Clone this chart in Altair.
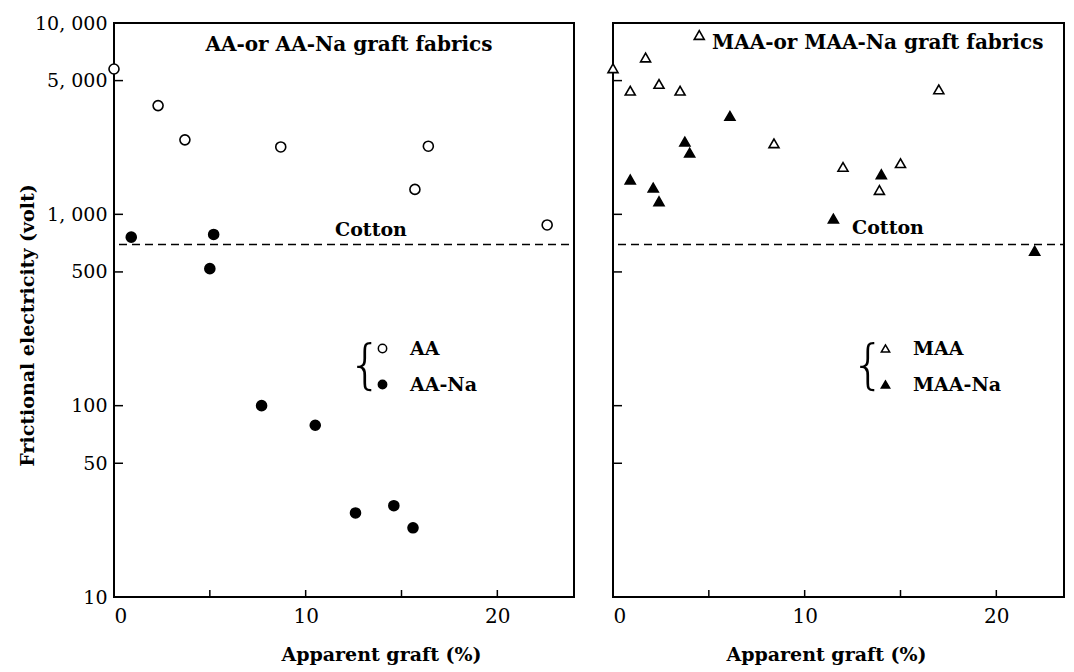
import altair as alt
import pandas as pd

# ---- data ----
# Left panel: AA (open circles) and AA-Na (filled circles)
aa_x = [0.0, 2.3, 3.7, 8.7, 15.7, 16.4, 22.6]
aa_y = [5750, 3700, 2450, 2250, 1350, 2270, 880]
aana_x = [0.9, 5.0, 5.2, 7.7, 10.5, 12.6, 14.6, 15.6]
aana_y = [760, 520, 785, 100, 79, 27.5, 30, 23]

# Right panel: MAA (open triangles) and MAA-Na (filled triangles)
maa_x = [0.0, 0.9, 1.7, 2.4, 3.5, 4.5, 8.4, 12.0, 13.9, 15.0, 17.0]
maa_y = [5800, 4430, 6600, 4800, 4430, 8650, 2350, 1770, 1340, 1850, 4500]
maana_x = [0.9, 2.1, 2.4, 3.75, 4.0, 6.1, 11.5, 14.0, 22.0]
maana_y = [1520, 1380, 1170, 2400, 2100, 3270, 950, 1620, 645]

cotton_level = [695]

y_tick_values = [10, 50, 100, 500, 1000, 5000, 10000]
x_label_values = [0, 10, 20]
x_tick_values = [5, 10, 15, 20]

left_title = "AA-or AA-Na graft fabrics"
right_title = "MAA-or MAA-Na graft fabrics"
x_title = "Apparent graft (%)"
y_title = "Frictional electricity (volt)"

SERIF = "DejaVu Serif"
H = 574
W_LEFT = 460
W_RIGHT = 451
PX_PER_UNIT = W_LEFT / 24.0


def make_df(xs, ys, name):
    return pd.DataFrame({"graft": xs, "volt": ys, "series": name})


def panel(df, width, domain, shapes, fills, title, title_x, title_align, title_y,
          xtitle_x, cotton_x, cotton_y, legend_x, legend_y, show_y):
    x_axis = alt.Axis(values=x_label_values, title=x_title, grid=False,
                      domain=False, ticks=False, labelPadding=9,
                      labelFont=SERIF, labelFontSize=20, labelColor="black",
                      titleFont=SERIF, titleFontSize=19, titleFontWeight="bold",
                      titleColor="black", titleX=xtitle_x, titleY=57,
                      titleBaseline="middle", titleAlign="center")
    if show_y:
        y_axis = alt.Axis(values=y_tick_values, title=y_title, grid=False,
                          domain=False, ticks=False, labelPadding=7,
                          labelExpr="replace(format(datum.value, ','), ',', ', ')",
                          labelFont=SERIF, labelFontSize=19, labelColor="black",
                          labelBaseline="middle",
                          titleFont=SERIF, titleFontSize=19, titleFontWeight="bold",
                          titleColor="black", titleX=-87, titleY=302,
                          titleAngle=270, titleBaseline="middle", titleAlign="center")
    else:
        y_axis = None

    x_max = width / PX_PER_UNIT
    xenc = alt.X("graft:Q", scale=alt.Scale(domain=[0, x_max], nice=False, zero=False),
                 axis=x_axis)
    yenc = alt.Y("volt:Q", scale=alt.Scale(type="log", domain=[10, 10000], nice=False),
                 axis=y_axis)

    leg = alt.Legend(orient="none", legendX=legend_x, legendY=legend_y,
                     title="{", titleOrient="left", titleFont="DejaVu Sans",
                     titleFontWeight=200, titleFontSize=54, titleColor="black",
                     titlePadding=-10, titleBaseline="middle",
                     labelFont=SERIF, labelFontSize=19, labelFontWeight="bold",
                     labelColor="black", labelOffset=18, rowPadding=16,
                     symbolSize=70, symbolStrokeWidth=1.5,
                     symbolStrokeColor="black", padding=0)

    points = alt.Chart(df).mark_point(filled=False, strokeWidth=1.6,
                                      size=100, opacity=1).encode(
        x=xenc, y=yenc,
        shape=alt.Shape("series:N", scale=alt.Scale(domain=domain, range=shapes), legend=leg),
        fill=alt.Fill("series:N", scale=alt.Scale(domain=domain, range=fills), legend=leg),
        stroke=alt.Stroke("series:N", scale=alt.Scale(domain=domain, range=["black", "black"]),
                          legend=leg),
    )

    cotton = alt.Chart(pd.DataFrame({"volt": cotton_level})).mark_rule(
        strokeDash=[8, 5], strokeWidth=1.5, color="black").encode(
        y=yenc, x=alt.value(5), x2=alt.value(width))

    yticks = alt.Chart(pd.DataFrame({"volt": y_tick_values})).mark_rule(
        color="black", strokeWidth=1.5).encode(y=yenc, x=alt.value(0), x2=alt.value(9))

    xticks = alt.Chart(pd.DataFrame({"graft": x_tick_values})).mark_rule(
        color="black", strokeWidth=1.5).encode(x=xenc, y=alt.value(H), y2=alt.value(H - 7))

    title_mark = alt.Chart(pd.DataFrame({"t": [title]})).mark_text(
        font=SERIF, fontSize=20, fontWeight="bold", color="black",
        align=title_align, baseline="middle").encode(
        text="t:N", x=alt.value(title_x), y=alt.value(title_y))

    cotton_text = alt.Chart(pd.DataFrame({"t": ["Cotton"]})).mark_text(
        font=SERIF, fontSize=19, fontWeight="bold", color="black",
        align="center", baseline="middle").encode(
        text="t:N", x=alt.value(cotton_x), y=alt.value(cotton_y))

    return alt.layer(cotton, yticks, xticks, title_mark, cotton_text, points).properties(
        width=width, height=H)


left_df = pd.concat([make_df(aa_x, aa_y, "AA"), make_df(aana_x, aana_y, "AA-Na")])
right_df = pd.concat([make_df(maa_x, maa_y, "MAA"), make_df(maana_x, maana_y, "MAA-Na")])

left = panel(left_df, W_LEFT, ["AA", "AA-Na"], ["circle", "circle"], ["white", "black"],
             left_title, 235, "center", 22, 267, 257, 207, 234, 316, True)
right = panel(right_df, W_RIGHT, ["MAA", "MAA-Na"], ["triangle-up", "triangle-up"],
              ["white", "black"],
              right_title, 99, "left", 20, 213, 275, 205, 238, 316, False)

chart = alt.hconcat(left, right, spacing=39, bounds="flush").resolve_scale(
    x="independent", y="independent", fill="independent", shape="independent",
    stroke="independent"
).resolve_legend(fill="independent", shape="independent", stroke="independent").configure_view(
    stroke="black", strokeWidth=2
).properties(
    padding={"left": 9, "top": 5, "right": 0, "bottom": 0},
    background="white",
)

chart.save("out.html", embed_options={"renderer": "svg", "actions": False})
